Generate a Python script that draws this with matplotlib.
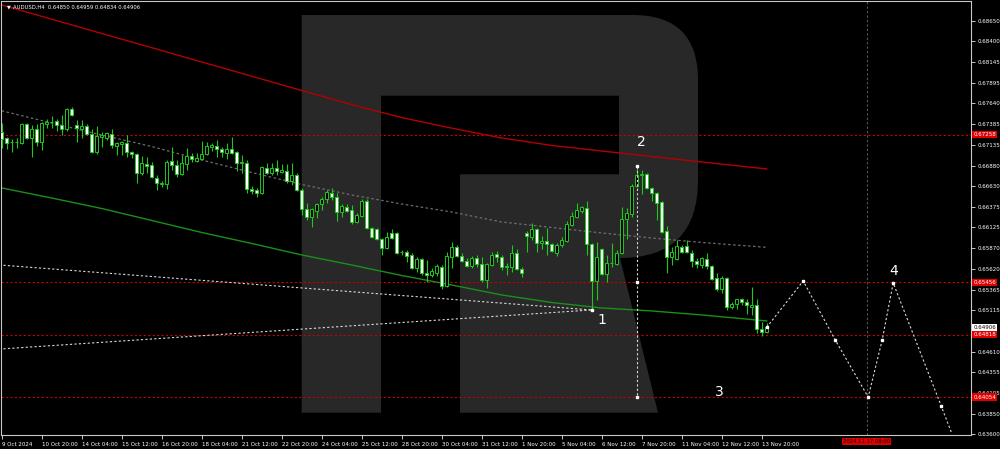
import matplotlib.pyplot as plt
from matplotlib.patches import PathPatch
from matplotlib.path import Path
from matplotlib.transforms import blended_transform_factory

# AUDUSD H4 candles, first bar 9 Oct 2024 12:00
opens = [
    0.67292, 0.67218, 0.67175, 0.67169, 0.67156, 0.67389, 0.67218, 0.67328, 0.67169, 0.67389,
    0.67413, 0.67425, 0.67377, 0.67328, 0.67572, 0.67377, 0.67328, 0.67365, 0.67267, 0.67047,
    0.67230, 0.67218, 0.67267, 0.67120, 0.67144, 0.67156, 0.67047, 0.67022, 0.66791, 0.66900,
    0.66888, 0.66729, 0.66662, 0.66656, 0.66937, 0.66888, 0.66778, 0.66900, 0.66998, 0.66937,
    0.66961, 0.67022, 0.67108, 0.67120, 0.67083, 0.67034, 0.67083, 0.67047, 0.66913, 0.66913,
    0.66595, 0.66583, 0.66547, 0.66851, 0.66791, 0.66851, 0.66803, 0.66815, 0.66693, 0.66766,
    0.66583, 0.66351, 0.66254, 0.66327, 0.66412, 0.66473, 0.66547, 0.66498, 0.66314, 0.66376,
    0.66339, 0.66193, 0.66266, 0.66449, 0.66120, 0.66107, 0.65986, 0.65875, 0.66058, 0.66058,
    0.65820, 0.65826, 0.65790, 0.65631, 0.65741, 0.65570, 0.65546, 0.65570, 0.65643, 0.65411,
    0.65765, 0.65887, 0.65778, 0.65717, 0.65655, 0.65753, 0.65680, 0.65484, 0.65668, 0.65802,
    0.65765, 0.65643, 0.65643, 0.65814, 0.65619, 0.66058, 0.66010, 0.66107, 0.65937, 0.65961,
    0.65925, 0.65814, 0.65912, 0.65961, 0.66156, 0.66254, 0.66327, 0.66363, 0.65925, 0.65472,
    0.65863, 0.65558, 0.65686, 0.65680, 0.65814, 0.66229, 0.66290, 0.66632, 0.66766, 0.66778,
    0.66607, 0.66547, 0.66437, 0.66083, 0.65765, 0.65741, 0.65887, 0.65900, 0.65814, 0.65717,
    0.65668, 0.65741, 0.65655, 0.65509, 0.65375, 0.65509, 0.65155, 0.65192, 0.65253, 0.65216,
    0.65155, 0.65180, 0.64887, 0.64850,
]
highs = [
    0.67401, 0.67230, 0.67205, 0.67218, 0.67401, 0.67401, 0.67377, 0.67389, 0.67413, 0.67450,
    0.67487, 0.67450, 0.67499, 0.67584, 0.67597, 0.67438, 0.67438, 0.67389, 0.67328, 0.67365,
    0.67292, 0.67292, 0.67328, 0.67169, 0.67181, 0.67255, 0.67059, 0.67034, 0.66998, 0.66986,
    0.66925, 0.66766, 0.66693, 0.66949, 0.67108, 0.66949, 0.67010, 0.67095, 0.67034, 0.67034,
    0.67181, 0.67169, 0.67156, 0.67193, 0.67108, 0.67156, 0.67230, 0.67059, 0.67010, 0.66949,
    0.66632, 0.66607, 0.66876, 0.66913, 0.66913, 0.66949, 0.66900, 0.66900, 0.66913, 0.66791,
    0.66607, 0.66424, 0.66363, 0.66424, 0.66498, 0.66583, 0.66607, 0.66547, 0.66412, 0.66412,
    0.66400, 0.66302, 0.66473, 0.66473, 0.66132, 0.66120, 0.65998, 0.66071, 0.66107, 0.66071,
    0.65851, 0.65851, 0.65814, 0.65765, 0.65753, 0.65729, 0.65631, 0.65680, 0.65668, 0.65826,
    0.65949, 0.65912, 0.65814, 0.65753, 0.65778, 0.65790, 0.65765, 0.65692, 0.65826, 0.65839,
    0.65790, 0.65692, 0.65912, 0.65863, 0.65643, 0.66083, 0.66180, 0.66120, 0.66022, 0.66120,
    0.65937, 0.65937, 0.66010, 0.66205, 0.66314, 0.66424, 0.66388, 0.66449, 0.65937, 0.65949,
    0.65875, 0.65790, 0.65937, 0.65851, 0.66376, 0.66363, 0.66656, 0.66876, 0.66827, 0.66791,
    0.66620, 0.66559, 0.66449, 0.66144, 0.65887, 0.65973, 0.65912, 0.65973, 0.65851, 0.65753,
    0.65765, 0.65814, 0.65668, 0.65570, 0.65534, 0.65521, 0.65216, 0.65229, 0.65265, 0.65253,
    0.65400, 0.65253, 0.64970, 0.64959,
]
lows = [
    0.67095, 0.67083, 0.67047, 0.67095, 0.67144, 0.67205, 0.66986, 0.67120, 0.67071, 0.67340,
    0.67340, 0.67304, 0.67255, 0.67304, 0.67487, 0.67169, 0.67218, 0.67255, 0.67034, 0.67022,
    0.67108, 0.67193, 0.67095, 0.67010, 0.67010, 0.66986, 0.66974, 0.66669, 0.66766, 0.66791,
    0.66729, 0.66583, 0.66620, 0.66595, 0.66827, 0.66742, 0.66766, 0.66827, 0.66925, 0.66925,
    0.66949, 0.67010, 0.67059, 0.66986, 0.66986, 0.66961, 0.67022, 0.66815, 0.66791, 0.66547,
    0.66534, 0.66498, 0.66534, 0.66778, 0.66766, 0.66766, 0.66791, 0.66669, 0.66644, 0.66571,
    0.66278, 0.66217, 0.66132, 0.66241, 0.66339, 0.66424, 0.66461, 0.66205, 0.66254, 0.66314,
    0.66168, 0.66180, 0.66254, 0.66107, 0.65998, 0.65973, 0.65790, 0.65863, 0.65986, 0.65802,
    0.65790, 0.65704, 0.65619, 0.65582, 0.65546, 0.65460, 0.65521, 0.65533, 0.65374, 0.65399,
    0.65631, 0.65765, 0.65704, 0.65643, 0.65631, 0.65643, 0.65460, 0.65387, 0.65655, 0.65704,
    0.65606, 0.65546, 0.65582, 0.65606, 0.65521, 0.65826, 0.65973, 0.65826, 0.65863, 0.65790,
    0.65826, 0.65778, 0.65887, 0.65949, 0.66144, 0.66241, 0.66302, 0.65790, 0.65118, 0.65240,
    0.65546, 0.65460, 0.65643, 0.65668, 0.65802, 0.65986, 0.66254, 0.66620, 0.66534, 0.66595,
    0.66449, 0.66217, 0.66058, 0.65570, 0.65668, 0.65729, 0.65814, 0.65814, 0.65643, 0.65631,
    0.65631, 0.65619, 0.65484, 0.65350, 0.65330, 0.65118, 0.65130, 0.65130, 0.65180, 0.65070,
    0.65060, 0.64840, 0.64800, 0.64834,
]
closes = [
    0.67205, 0.67156, 0.67169, 0.67175, 0.67389, 0.67218, 0.67328, 0.67169, 0.67401, 0.67413,
    0.67419, 0.67377, 0.67328, 0.67572, 0.67499, 0.67340, 0.67365, 0.67267, 0.67047, 0.67242,
    0.67255, 0.67279, 0.67132, 0.67156, 0.67169, 0.67047, 0.67022, 0.66791, 0.66913, 0.66876,
    0.66742, 0.66669, 0.66669, 0.66925, 0.66888, 0.66778, 0.66913, 0.66998, 0.66961, 0.66974,
    0.67022, 0.67120, 0.67132, 0.67083, 0.67047, 0.67083, 0.67034, 0.66913, 0.66925, 0.66595,
    0.66571, 0.66547, 0.66864, 0.66791, 0.66851, 0.66815, 0.66827, 0.66693, 0.66766, 0.66583,
    0.66351, 0.66254, 0.66351, 0.66412, 0.66473, 0.66559, 0.66498, 0.66314, 0.66388, 0.66327,
    0.66193, 0.66278, 0.66449, 0.66120, 0.66010, 0.65986, 0.65875, 0.66010, 0.65998, 0.65814,
    0.65826, 0.65778, 0.65631, 0.65741, 0.65570, 0.65546, 0.65594, 0.65655, 0.65411, 0.65778,
    0.65887, 0.65778, 0.65717, 0.65655, 0.65753, 0.65680, 0.65484, 0.65680, 0.65790, 0.65765,
    0.65643, 0.65649, 0.65814, 0.65619, 0.65570, 0.66022, 0.66107, 0.65937, 0.65961, 0.65925,
    0.65839, 0.65912, 0.65973, 0.66168, 0.66266, 0.66339, 0.66376, 0.65925, 0.65472, 0.65765,
    0.65558, 0.65692, 0.65692, 0.65814, 0.66229, 0.66302, 0.66632, 0.66766, 0.66778, 0.66607,
    0.66547, 0.66424, 0.66071, 0.65765, 0.65826, 0.65900, 0.65826, 0.65826, 0.65717, 0.65680,
    0.65753, 0.65655, 0.65497, 0.65375, 0.65509, 0.65155, 0.65192, 0.65253, 0.65216, 0.65180,
    0.65180, 0.64887, 0.64850, 0.64906,
]

# labels of the time axis, one every 8 bars
time_labels = [
    "9 Oct 2024", "10 Oct 20:00", "14 Oct 04:00", "15 Oct 12:00", "16 Oct 20:00",
    "18 Oct 04:00", "21 Oct 12:00", "22 Oct 20:00", "24 Oct 04:00", "25 Oct 12:00",
    "28 Oct 20:00", "30 Oct 04:00", "31 Oct 12:00", "1 Nov 20:00", "5 Nov 04:00",
    "6 Nov 12:00", "7 Nov 20:00", "11 Nov 04:00", "12 Nov 12:00", "13 Nov 20:00",
]
price_ticks = [0.68650, 0.68400, 0.68145, 0.67895, 0.67640, 0.67385, 0.67135, 0.66880,
               0.66630, 0.66375, 0.66125, 0.65870, 0.65620, 0.65365, 0.65115, 0.64610,
               0.64355, 0.64105, 0.63850, 0.63600]

# moving averages sampled every 10 bars
ma_idx = [0, 10, 20, 30, 40, 50, 60, 70, 80, 90, 100, 110, 120, 130, 140, 153]
ma_red = [0.68842, 0.68669, 0.68494, 0.68321, 0.68146, 0.67973, 0.67798, 0.67625,
          0.67467, 0.67338, 0.67218, 0.67127, 0.67059, 0.66992, 0.66925, 0.66840]
ma_green = [0.66608, 0.66485, 0.66357, 0.66211, 0.66064, 0.65930, 0.65790, 0.65667,
            0.65539, 0.65423, 0.65301, 0.65209, 0.65142, 0.65106, 0.65057, 0.64984]
ma_gray = [0.67550, 0.67401, 0.67255, 0.67114, 0.66949, 0.66797, 0.66650, 0.66522,
           0.66412, 0.66314, 0.66192, 0.66125, 0.66058, 0.65997, 0.65942, 0.65883]

levels = [0.67258, 0.65456, 0.64818, 0.64054]

# wave lines and forecast path
wave_up = ([-1, 118], [0.65670, 0.65118])
wave_dn = ([-1, 118], [0.64638, 0.65118])
forecast_idx = [153, 160.3, 166.7, 173.3, 176.1, 178.3, 187.9, 189.9]
forecast_px = [0.64906, 0.65472, 0.64752, 0.64054, 0.64752, 0.65448, 0.63946, 0.63628]
wave_marks = [("1", 120.0, 0.64990), ("2", 128.0, 0.67169), ("3", 143.5, 0.64110),
              ("4", 178.4, 0.65590)]

green = "#1ec81e"
fig = plt.figure(figsize=(10, 4.49), dpi=100, facecolor="black")
ax = fig.add_axes([0.001, 0.0301, 0.970, 0.9677], facecolor="black")

# watermark "R" in pixel coordinates of the canvas
W, H = 1000.0, 449.0
pts = [(301.7, 412.7), (301.7, 15), (633, 15), (698, 15), (698, 80), (698, 180),
       (698, 258), (620, 258), (658, 412.7), (460, 412.7), (460, 174.3), (619, 174.3),
       (619, 95.7), (381, 95.7), (381, 412.7), (301.7, 412.7)]
codes = [Path.MOVETO, Path.LINETO, Path.LINETO, Path.CURVE3, Path.CURVE3, Path.LINETO,
         Path.CURVE3, Path.CURVE3, Path.LINETO, Path.LINETO, Path.LINETO, Path.LINETO,
         Path.LINETO, Path.LINETO, Path.LINETO, Path.CLOSEPOLY]
r_path = Path([(x / W, 1 - y / H) for x, y in pts], codes)
ax.add_patch(PathPatch(r_path, transform=fig.transFigure, facecolor="#282828",
                       edgecolor="none", zorder=0.5))

# indicators
ax.plot(ma_idx, ma_red, color="#b40000", lw=1.0, zorder=2)
ax.plot(ma_idx, ma_green, color="#1a8f1a", lw=1.0, zorder=2)
ax.plot(ma_idx, ma_gray, color="#6e6e6e", lw=0.9, ls=(0, (2, 2)), zorder=2)
for lv in levels:
    ax.axhline(lv, color="#c80000", lw=0.8, ls=(0, (2, 2)), zorder=1.5)
ax.axvline(173, color="#5a5a5a", lw=0.8, ls=(0, (2, 2)), zorder=1.5)

# candles
n = len(opens)
for i in range(n):
    o, h, l, c = opens[i], highs[i], lows[i], closes[i]
    ax.vlines(i, l, h, color=green, lw=0.8, zorder=3)
    fc = "black" if c >= o else "white"
    ax.bar(i, c - o, bottom=o, width=0.62, facecolor=fc, edgecolor=green,
           linewidth=0.7, zorder=4)

# wave lines
wc = "#d8d8d8"
ax.plot(*wave_up, color=wc, lw=0.8, ls=(0, (2, 2)), zorder=5)
ax.plot(*wave_dn, color=wc, lw=0.8, ls=(0, (2, 2)), zorder=5)
ax.plot([127, 127], [highs[127], levels[3]], color=wc, lw=0.8, ls=(0, (2, 2)), zorder=5)
ax.plot(forecast_idx, forecast_px, color=wc, lw=0.8, ls=(0, (2, 2)), zorder=5)
ax.plot(forecast_idx[:-1], forecast_px[:-1], ls="none", marker="s", ms=2,
        color="white", zorder=6)
ax.plot([118, 127, 127, 127], [lows[118], highs[127], levels[1], levels[3]], ls="none",
        marker="s", ms=2, color="white", zorder=6)
for lab, xi, yp in wave_marks:
    ax.text(xi, yp, lab, color="white", fontsize=10, ha="center", va="center", zorder=7)

# axes
ax.set_xlim(-0.14, 193.86)
ax.set_ylim(0.63585, 0.68891)
ax.set_xticks(range(0, 8 * len(time_labels), 8))
ax.set_xticklabels(time_labels, fontsize=4.0)
ax.set_yticks(price_ticks)
ax.set_yticklabels([f"{p:.5f}" for p in price_ticks], fontsize=4.0)
ax.yaxis.tick_right()
ax.tick_params(colors="#c8c8c8", labelcolor="white", length=3, width=0.7,
               direction="out", pad=1.5)
for lab in ax.get_xticklabels():
    lab.set_ha("left")
for sp in ax.spines.values():
    sp.set_color("#c8c8c8")
    sp.set_linewidth(0.8)

# price labels on the right axis
tr = blended_transform_factory(ax.transAxes, ax.transData)
for lv in levels:
    ax.text(1.0025, lv, f"{lv:.5f}", transform=tr, fontsize=4.0, color="white", va="center",
            ha="left", bbox=dict(facecolor="#e00000", edgecolor="none", pad=0.8), clip_on=False)
ax.text(1.0025, closes[-1], f"{closes[-1]:.5f}", transform=tr, fontsize=4.0, color="black",
        va="center", ha="left", bbox=dict(facecolor="white", edgecolor="none", pad=0.8),
        clip_on=False)
trx = blended_transform_factory(ax.transData, ax.transAxes)
ax.text(173, -0.014, "2024.11.17 08:00", transform=trx, fontsize=3.8, color="black",
        ha="center", va="center", bbox=dict(facecolor="#e00000", edgecolor="none", pad=0.8),
        clip_on=False)

# header
ax.text(0.006, 0.986, "\u25bc", transform=ax.transAxes, fontsize=3.5, color="white",
        va="center", ha="left")
ax.text(0.012, 0.986, "AUDUSD,H4  0.64850 0.64959 0.64834 0.64906", transform=ax.transAxes,
        fontsize=3.8, color="white", va="center", ha="left")

fig.savefig("out.png", dpi=100, facecolor="black")
